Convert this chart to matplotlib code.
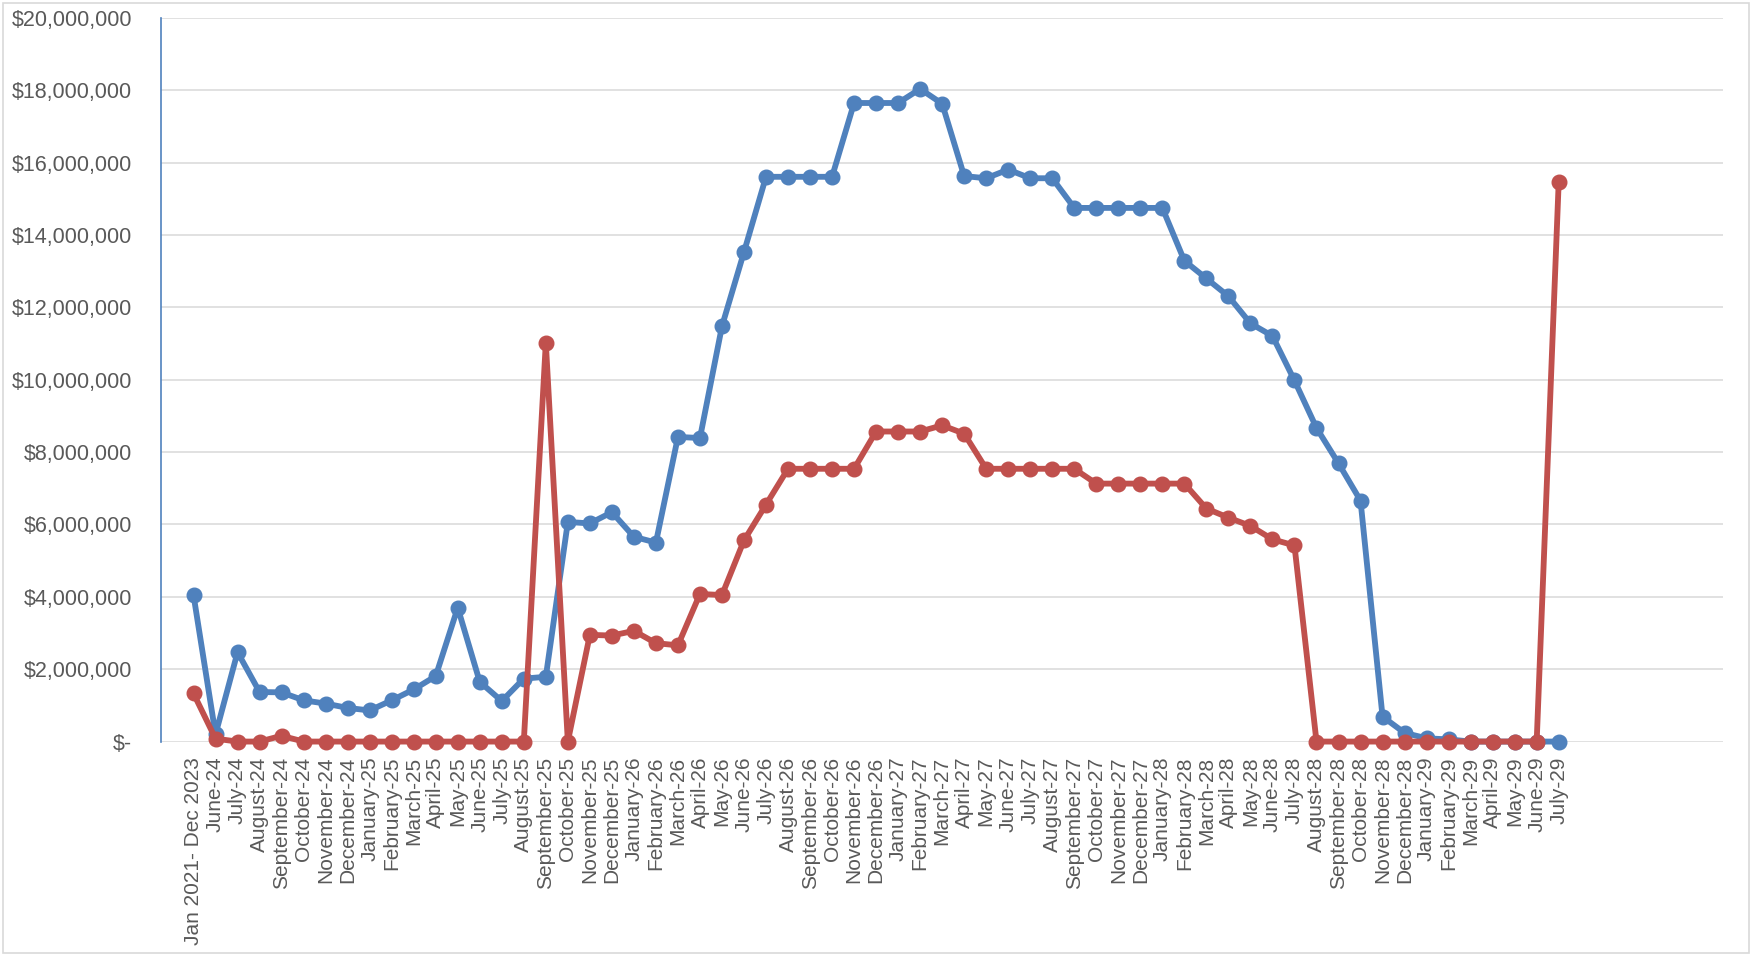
import numpy as np
import matplotlib.pyplot as plt
from matplotlib.patches import Rectangle
from matplotlib.ticker import FuncFormatter, MultipleLocator

# category labels along the x axis
periods = ['Jan 2021- Dec 2023',
           'June-24', 'July-24', 'August-24', 'September-24', 'October-24',
           'November-24', 'December-24',
           'January-25', 'February-25', 'March-25', 'April-25', 'May-25',
           'June-25', 'July-25', 'August-25', 'September-25', 'October-25',
           'November-25', 'December-25',
           'January-26', 'February-26', 'March-26', 'April-26', 'May-26',
           'June-26', 'July-26', 'August-26', 'September-26', 'October-26',
           'November-26', 'December-26',
           'January-27', 'February-27', 'March-27', 'April-27', 'May-27',
           'June-27', 'July-27', 'August-27', 'September-27', 'October-27',
           'November-27', 'December-27',
           'January-28', 'February-28', 'March-28', 'April-28', 'May-28',
           'June-28', 'July-28', 'August-28', 'September-28', 'October-28',
           'November-28', 'December-28',
           'January-29', 'February-29', 'March-29', 'April-29', 'May-29',
           'June-29', 'July-29']

# values in millions of dollars
blue_m = [4.05, 0.20, 2.47, 1.37, 1.36, 1.14, 1.05, 0.93, 0.86, 1.14, 1.44,
          1.81, 3.70, 1.65, 1.12, 1.74, 1.79, 6.07, 6.03, 6.34, 5.66, 5.50,
          8.42, 8.39, 11.48, 13.53, 15.61, 15.61, 15.61, 15.61, 17.65, 17.65,
          17.65, 18.04, 17.63, 15.63, 15.57, 15.81, 15.57, 15.57, 14.75,
          14.75, 14.75, 14.75, 14.75, 13.29, 12.80, 12.31, 11.56, 11.21,
          9.98, 8.67, 7.69, 6.66, 0.69, 0.24, 0.09, 0.06, 0, 0, 0, 0, 0]

red_m = [1.33, 0.08, 0, 0, 0.16, 0, 0, 0, 0, 0, 0, 0, 0, 0, 0, 0, 11.02, 0,
         2.95, 2.93, 3.06, 2.72, 2.66, 4.08, 4.05, 5.56, 6.55, 7.54, 7.54,
         7.54, 7.54, 8.57, 8.57, 8.57, 8.74, 8.51, 7.54, 7.54, 7.54, 7.54,
         7.54, 7.13, 7.13, 7.13, 7.13, 7.13, 6.44, 6.19, 5.96, 5.59, 5.42,
         0, 0, 0, 0, 0, 0, 0, 0, 0, 0, 0, 15.46]

BLUE = '#4F81BD'
RED = '#C0504D'
TXT = '#595959'
GRID = '#D9D9D9'

plt.rcParams['font.family'] = ['Liberation Sans', 'DejaVu Sans']

x = np.arange(len(periods))
blue = np.array(blue_m) * 1e6
red = np.array(red_m) * 1e6

fig = plt.figure(figsize=(17.54, 9.56), dpi=100)
ax = fig.add_axes([0.0918, 0.2243, 0.8905, 0.7569])

for vals, col in [(blue, BLUE), (red, RED)]:
    ax.plot(x, vals, color=col, lw=4.2, marker='o', ms=10.5,
            solid_joinstyle='round', clip_on=False, zorder=3)

ax.set_ylim(0, 20e6)
ax.set_xlim(-1.476, 69.46)
ax.yaxis.set_major_locator(MultipleLocator(2e6))

def money(v, pos):
    if v == 0:
        return '$-'
    return '${:,.0f}'.format(v)

ax.yaxis.set_major_formatter(FuncFormatter(money))
ax.grid(axis='y', color=GRID, lw=1.1, zorder=0)
ax.set_axisbelow(True)

ax.set_xticks(x)
ax.set_xticklabels(periods, rotation=90)
ax.tick_params(axis='x', length=0, pad=11, labelsize=15, labelcolor=TXT)
ax.tick_params(axis='y', length=0, pad=21, labelsize=15.5, labelcolor=TXT)

for side in ['top', 'right', 'bottom']:
    ax.spines[side].set_visible(False)
ax.spines['left'].set_color(BLUE)
ax.spines['left'].set_linewidth(1.2)

# thin border around the whole chart area
fig.patches.append(Rectangle((0.0015, 0.003), 0.9955, 0.994,
                             transform=fig.transFigure, fill=False,
                             edgecolor=GRID, lw=1.2))

fig.savefig('out.png', dpi=100)
